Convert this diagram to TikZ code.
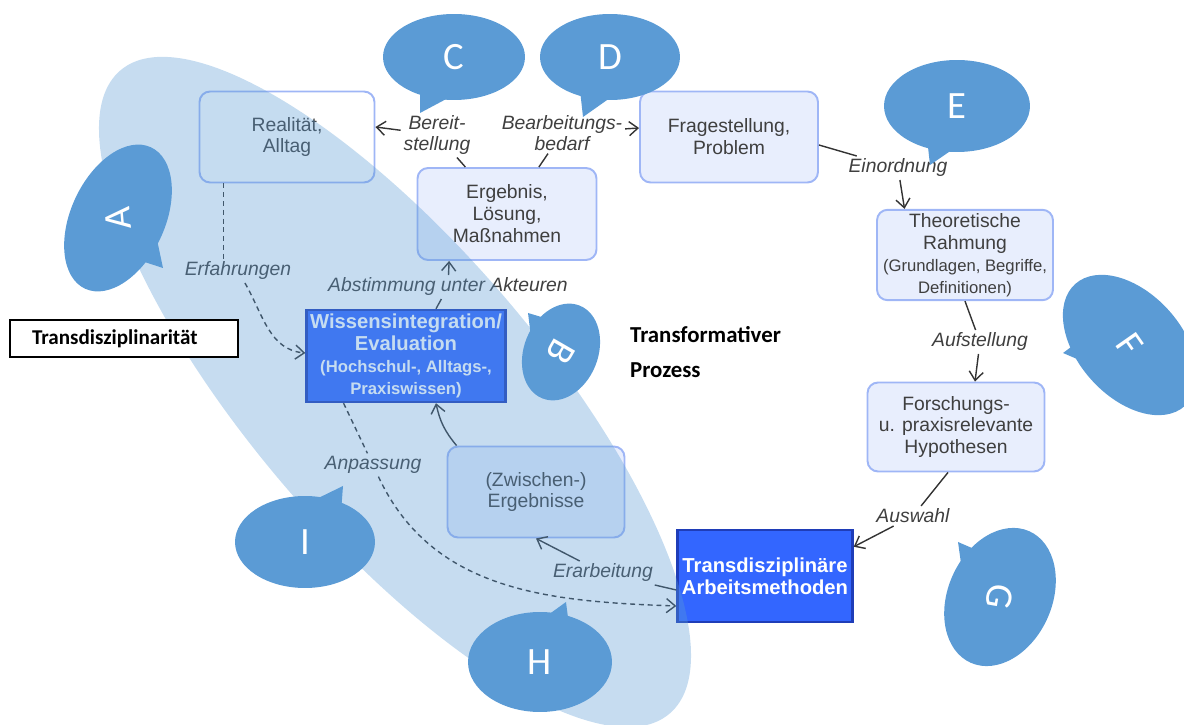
\documentclass[tikz,border=0pt]{standalone}
\usepackage{fontspec}
\setmainfont{Liberation Sans}
\newfontfamily\calibfont{Carlito}
\usepackage{graphicx}
\usepackage{tikz}
\usetikzlibrary{arrows.meta, positioning, calc, shapes.geometric}

\definecolor{bubbleblue}{HTML}{5B9BD5}
\definecolor{boxfill}{HTML}{E8EEFD}
\definecolor{boxborder}{HTML}{9FB6F6}
\definecolor{darkfill}{HTML}{3366FF}
\definecolor{darkborder}{HTML}{1F3DB8}
\definecolor{textgray}{HTML}{3F3F3F}
\definecolor{linegray}{HTML}{333333}

\newcommand\smalltxt{\fontsize{9.5}{11}\selectfont}

\begin{document}
\begin{tikzpicture}[x=0.02cm, y=0.02cm,
  lightbox/.style={rectangle, rounded corners=6pt, draw=boxborder, fill=boxfill,
                   line width=1.1pt, minimum width=3.54cm, minimum height=1.82cm,
                   inner sep=2pt, font=\fontsize{11}{12.5}\selectfont,
                   text=textgray, align=center},
  darkbox/.style={rectangle, draw=darkborder, fill=darkfill, line width=1.4pt,
                  minimum width=3.5cm, minimum height=1.84cm, inner sep=2pt,
                  font=\bfseries\fontsize{11.5}{12.5}\selectfont, text=white, align=center},
  elabel/.style={font=\itshape\fontsize{11}{12}\selectfont, text=textgray,
                 align=center, inner sep=1.5pt},
  link/.style={draw=linegray, line width=0.8pt},
  conn/.style={link, -{Straight Barb[length=5pt,width=8pt]}},
  dashlink/.style={link, dash pattern=on 2.8pt off 2.2pt},
  dashconn/.style={conn, dash pattern=on 2.8pt off 2.2pt},
  bubble/.style={ellipse, fill=bubbleblue, inner sep=0pt, outer sep=0pt,
                 text=white, font=\calibfont\fontsize{22}{24}\selectfont},
  notebox/.style={rectangle, draw=black, line width=1.1pt, fill=white,
                  text width=3.68cm, inner xsep=0.44cm, minimum height=0.74cm,
                  font=\calibfont\bfseries\fontsize{12}{14}\selectfont, align=left}
]
\useasboundingbox (0,0) rectangle (1184,724);

% ── Process boxes ──
\node[lightbox, fill=white, minimum width=3.5cm] (real)  at (287,587) {Realität,\\Alltag};
\node[lightbox, minimum width=3.58cm, minimum height=1.84cm] (erg) at (507,510) {Ergebnis,\\Lösung,\\Maßnahmen};
\node[lightbox, minimum width=3.56cm] (frage) at (729,587) {Fragestellung,\\Problem};
\node[lightbox, minimum width=3.52cm, minimum height=1.8cm] (theo) at (965,469)
  {Theoretische\\Rahmung\\\smalltxt(Grundlagen, Begriffe,\\\smalltxt Definitionen)};
\node[lightbox, minimum height=1.78cm] (hyp) at (956,297) {Forschungs-\\u. praxisrelevante\\Hypothesen};
\node[lightbox] (zwi) at (536,232) {(Zwischen-)\\Ergebnisse};
\node[darkbox, minimum width=3.98cm] (wiss) at (406,368)
  {Wissensintegration/\\Evaluation\\\smalltxt(Hochschul-, Alltags-,\\\smalltxt Praxiswissen)};
\node[darkbox] (meth) at (765,148) {Transdisziplinäre\\Arbeitsmethoden};

% ── Connector labels ──
\node[elabel] (lBer)  at (437,589) {Bereit-\\stellung};
\node[elabel] (lBear) at (562,591) {Bearbeitungs-\\bedarf};
\node[elabel] (lEin)  at (898,556) {Einordnung};
\node[elabel] (lAuf)  at (980,382) {Aufstellung};
\node[elabel] (lAus)  at (913,208) {Auswahl};
\node[elabel] (lErar) at (603,151) {Erarbeitung};
\node[elabel] (lAnp)  at (373,259) {Anpassung};
\node[elabel] (lErf)  at (238,453) {Erfahrungen};
\node[elabel] (lAbst) at (448,437) {Abstimmung unter Akteuren};

% ── Connectors ──
\draw[conn] (erg) -- (lBer) -- ($(real.east)+(0,10)$);
\draw[conn] (erg) -- (lBear) -- ($(frage.west)+(0,9)$);
\draw[conn] ($(frage.east)+(0,-8)$) -- (lEin) -- ($(theo.north west)!0.16!(theo.north east)$);
\draw[conn] (theo.south) -- (lAuf) -- ($(hyp.north)+(19,0)$);
\draw[conn] ($(hyp.south)+(-8,0)$) -- (lAus) -- ($(meth.north east)+(0,-18)$);
\draw[conn] ($(meth.west)+(0,-14)$) -- (lErar) -- (zwi.south);
\draw[conn] ($(zwi.north west)+(10,0)$) to[bend left=14] ($(wiss.south)+(30,0)$);
\draw[conn] ($(wiss.north)+(30,0)$) -- (lAbst) -- ($(erg.south west)!0.18!(erg.south east)$);
\coordinate (erfStart) at ($(real.south west)!0.14!(real.south east)$);
\draw[dashlink] (erfStart) -- (erfStart |- lErf.north);
\draw[dashconn] (lErf) to[out=-60, in=175] ($(wiss.west)+(0,3)$);
\draw[dashconn] ($(wiss.south west)!0.19!(wiss.south east)$) -- (lAnp)
  to[out=-65, in=178] ($(meth.west)+(0,-30)$);

% ── Transdisciplinary field ──
\fill[bubbleblue, opacity=0.35, rotate around={-49.5:(395,332)}] (395,332) ellipse [x radius=8.46cm, y radius=2.9cm];

% ── Speech bubbles ──
\coordinate (tA) at (163,456);
\coordinate (tB) at (528,411);
\coordinate (tC) at (420,611);
\coordinate (tD) at (583,607);
\coordinate (tE) at (930,559);
\coordinate (tF) at (1063,371);
\coordinate (tG) at (958,182);
\coordinate (tH) at (566,122);
\coordinate (tI) at (343,238);

\node[bubble, minimum width=3.12cm, minimum height=1.88cm, rotate=65]  (bA) at (118,506) {\rotatebox[origin=c]{30}{A}};
\node[bubble, minimum width=2cm, minimum height=1.48cm, rotate=68]     (bB) at (561,372) {\rotatebox[origin=c]{172}{B}};
\node[bubble, minimum width=2.84cm, minimum height=1.72cm]             (bC) at (454,667) {C};
\node[bubble, minimum width=2.8cm, minimum height=1.72cm]              (bD) at (610,667) {D};
\node[bubble, minimum width=2.92cm, minimum height=1.84cm]             (bE) at (957,618) {E};
\node[bubble, minimum width=3.28cm, minimum height=2.08cm, rotate=-48] (bF) at (1130,379) {\rotatebox[origin=c]{-7}{F}};
\node[bubble, minimum width=2.88cm, minimum height=2.08cm, rotate=66]  (bG) at (1000,127) {\rotatebox[origin=c]{-166}{G}};
\node[bubble, minimum width=2.88cm, minimum height=2cm]                (bH) at (540,62) {H};
\node[bubble, minimum width=2.8cm, minimum height=1.84cm]              (bI) at (305,182) {I};

\fill[bubbleblue] ($(bA.center)!0.55!(tA)!0.35cm!90:(tA)$) -- (tA) -- ($(bA.center)!0.55!(tA)!0.35cm!-90:(tA)$) -- cycle;
\fill[bubbleblue] ($(bB.center)!0.55!(tB)!0.3cm!90:(tB)$) -- (tB) -- ($(bB.center)!0.55!(tB)!0.3cm!-90:(tB)$) -- cycle;
\fill[bubbleblue] ($(bC.center)!0.55!(tC)!0.35cm!90:(tC)$) -- (tC) -- ($(bC.center)!0.55!(tC)!0.35cm!-90:(tC)$) -- cycle;
\fill[bubbleblue] ($(bD.center)!0.55!(tD)!0.35cm!90:(tD)$) -- (tD) -- ($(bD.center)!0.55!(tD)!0.35cm!-90:(tD)$) -- cycle;
\fill[bubbleblue] ($(bE.center)!0.55!(tE)!0.35cm!90:(tE)$) -- (tE) -- ($(bE.center)!0.55!(tE)!0.35cm!-90:(tE)$) -- cycle;
\fill[bubbleblue] ($(bF.center)!0.55!(tF)!0.35cm!90:(tF)$) -- (tF) -- ($(bF.center)!0.55!(tF)!0.35cm!-90:(tF)$) -- cycle;
\fill[bubbleblue] ($(bG.center)!0.55!(tG)!0.35cm!90:(tG)$) -- (tG) -- ($(bG.center)!0.55!(tG)!0.35cm!-90:(tG)$) -- cycle;
\fill[bubbleblue] ($(bH.center)!0.55!(tH)!0.35cm!90:(tH)$) -- (tH) -- ($(bH.center)!0.55!(tH)!0.35cm!-90:(tH)$) -- cycle;
\fill[bubbleblue] ($(bI.center)!0.55!(tI)!0.35cm!90:(tI)$) -- (tI) -- ($(bI.center)!0.55!(tI)!0.35cm!-90:(tI)$) -- cycle;

% ── Side notes ──
\node[notebox] (trans) at (124,385.5) {Transdisziplinarität};
\node[font=\calibfont\bfseries\fontsize{13}{20}\selectfont, align=left, anchor=west] (proz) at (624,372) {Transformativer\\Prozess};
\end{tikzpicture}
\end{document}
